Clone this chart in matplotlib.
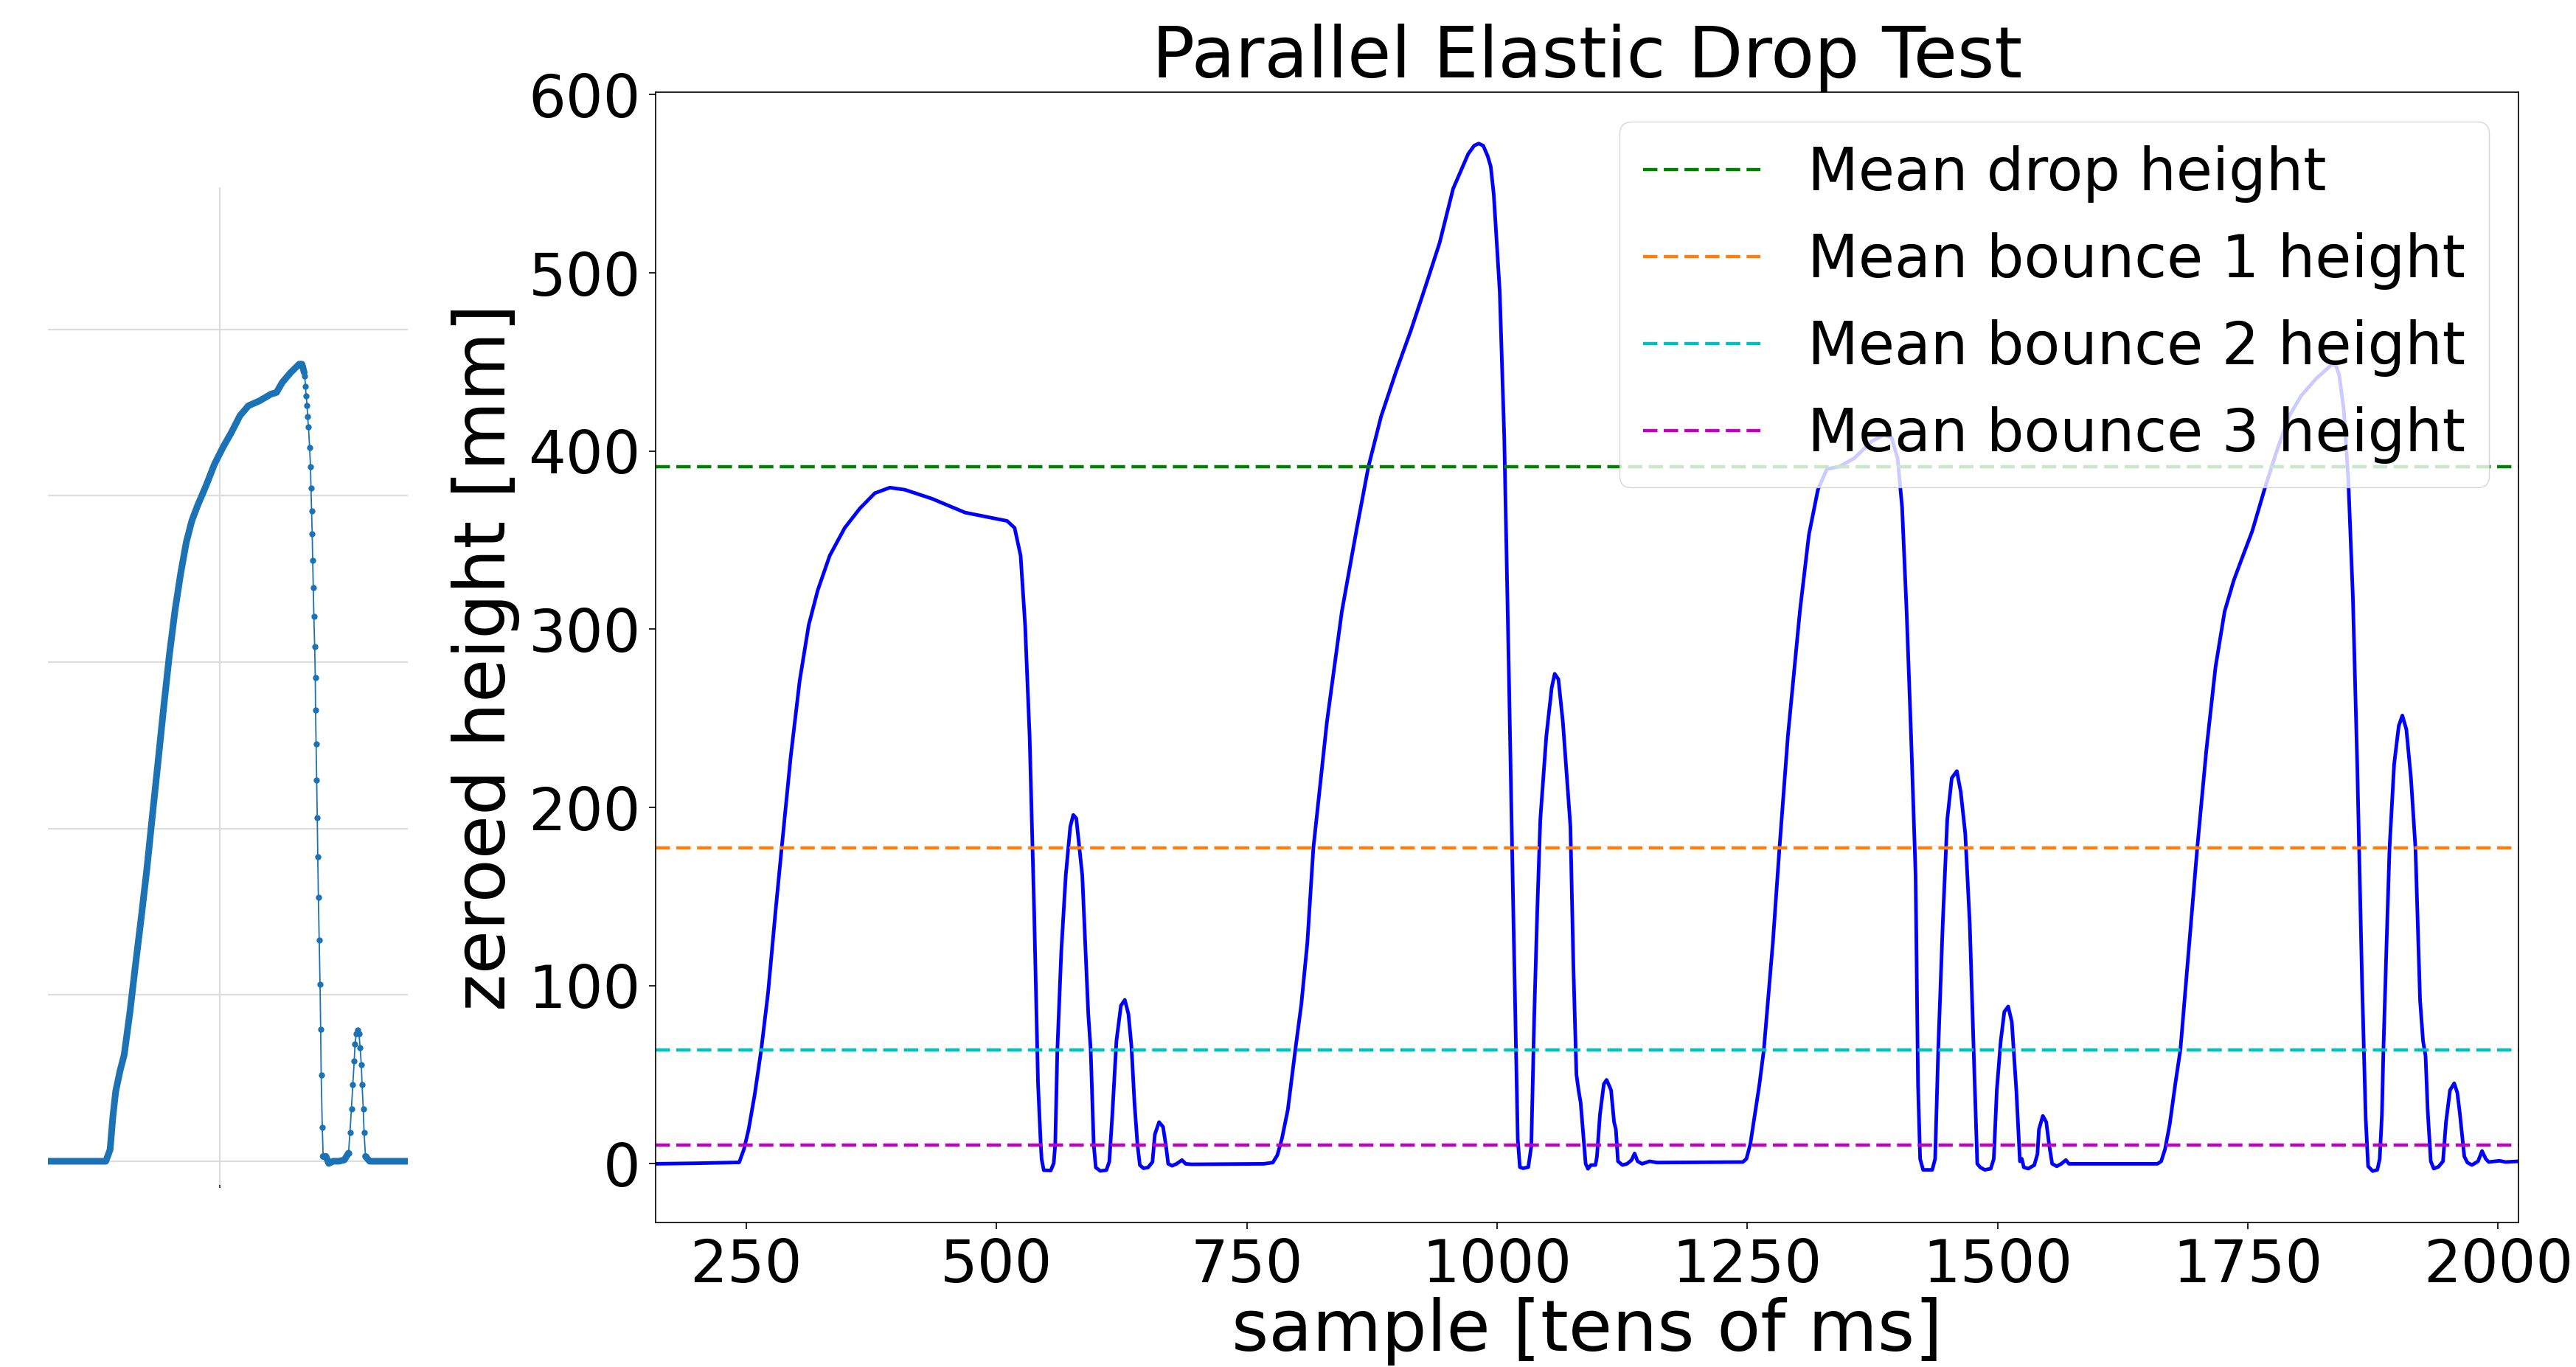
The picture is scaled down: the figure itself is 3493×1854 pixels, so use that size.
import numpy as np
import matplotlib
matplotlib.use("Agg")
import matplotlib.pyplot as plt

# ---------------- main series (sample [tens of ms], zeroed height [mm]) ----------------
sample = [159.5, 200, 243, 247.8, 252.4, 258.4, 265.0, 271.9, 279.4, 285.4, 294.4, 303.4, 312.4,
          321.4, 333.4, 348.4, 363.5, 378.5, 393.5, 408.5, 435.5, 468.6, 510.6, 518.1, 524.1,
          528.6, 533.1, 537.6, 541.5, 544.2, 545.1, 547.2, 554.2, 557.2, 558.7, 560.8, 564.7,
          569.2, 573.7, 576.7, 579.7, 585.7, 591.7, 594.1, 597.1, 599.2, 603.7, 609.7, 612.7,
          615.7, 619.8, 624.3, 628.2, 631.8, 634.8, 637.8, 640.8, 643.2, 646.8, 651.3, 655.8,
          658.2, 662.4, 666.4, 669.4, 671.5, 675.4, 679.9, 685.3, 688.9, 694.9, 767.0, 776.0,
          780.5, 785.0, 791.0, 798.5, 804.5, 810.5, 816.5, 830.0, 845.0, 860.0, 871.5, 884.1,
          899.1, 914.1, 929.1, 942.6, 956.1, 971.1, 977.1, 981.7, 986.2, 990.7, 993.7, 996.7,
          1002.7, 1007.2, 1011.7,
          1016.2, 1020.7, 1022.8, 1026.0, 1031.2, 1034.2, 1037.2, 1040.2, 1043.2, 1049.2, 1054.6,
          1057.6, 1061.3, 1065.8, 1073.3, 1076.3, 1079.3, 1081.5, 1083.5, 1085.5, 1088.5, 1090.8,
          1093.8, 1098.3, 1099.8, 1102.8, 1106.7, 1109.4, 1111.8, 1113.9, 1116.9, 1118.7, 1120.8,
          1125.3, 1129.9, 1134.4, 1137.4, 1140.4, 1144.9, 1152.4, 1159.9, 1245.5, 1249.1, 1253.0,
          1257.5, 1262.0, 1266.5, 1275.5, 1282.1, 1290.5, 1302.5, 1311.5, 1320.5, 1329.5, 1341.6,
          1356.6, 1374.6, 1386.6, 1394.1, 1400.1, 1404.6, 1409.1, 1413.6, 1418.1, 1420.5, 1422.6,
          1425.6, 1434.7, 1437.6, 1440.7, 1445.2, 1449.7, 1454.2, 1459.3, 1463.2, 1467.7, 1472.2,
          1476.7, 1479.7, 1482.7, 1487.2, 1493.2, 1496.2, 1499.2, 1503.1, 1506.7, 1510.6, 1514.2,
          1518.7, 1522.3, 1524.2, 1526.2, 1530.7, 1536.7, 1539.8, 1541.3, 1545.2, 1548.6, 1551.4,
          1554.5, 1559.1, 1563.6, 1568.2, 1571.3, 1580.4, 1659.7, 1663.4, 1667.3, 1671.9, 1678.0,
          1682.6, 1690.2, 1699.4, 1708.5, 1717.7, 1726.8, 1736.0, 1745.1, 1754.3, 1766.5, 1778.7,
          1790.9, 1803.1, 1818.3, 1833.6, 1838.0, 1841.2, 1845.8, 1850.3, 1854.9, 1859.4, 1864.0,
          1867.7,
          1870.1, 1874.7, 1879.3, 1881.7, 1883.9, 1885.4, 1888.5, 1891.5, 1896.1, 1900.7, 1904.3,
          1908.3, 1912.9, 1917.4, 1922.0, 1925.0, 1927.5, 1929.6, 1932.7, 1935.7, 1940.3, 1944.9,
          1947.9, 1951.9, 1956.1, 1959.2, 1961.6, 1966.2, 1969.3, 1973.8, 1979.9, 1983.9, 1987.6,
          1990.6, 2001.3, 2007.4, 2020.3]
height = [0.0, 0.3, 0.8, 8.3, 19.3, 38.6, 64.0, 96.4, 142.4, 177.1, 228.2, 271.1, 302.3,
          321.8, 341.3, 356.9, 367.8, 376.4, 379.5, 378.3, 373.3, 365.5, 360.8, 356.9, 341.3,
          302.3, 239.9, 142.4, 44.9, 10.9, 2.6, -3.6, -3.8, 0.4, 11.2, 64.0, 119.0,
          161.9, 189.2, 195.8, 193.9, 161.9, 83.9, 64.0, 11.0, -2.1, -4.0, -3.6, 1.2,
          27.5, 68.9, 88.8, 92.0, 84.0, 66.1, 34.4, 10.9, -0.7, -2.5, -2.1, 1.0,
          16.5, 23.4, 20.7, 9.6, 0.0, -1.1, 0.0, 2.1, 0.0, -0.3, 0.0, 0.7,
          4.8, 13.8, 30.3, 64.0, 89.5, 124.0, 177.1, 247.7, 310.1, 356.9, 391.2, 419.3,
          444.6, 468.0, 493.4, 516.8, 547.2, 566.7, 571.4, 572.6, 571.4, 565.5, 559.7, 544.1,
          489.5, 407.6, 278.9,
          142.4, 13.7, -1.9, -2.5, -1.9, 9.8, 83.9, 142.4, 193.1, 239.9, 267.2,
          275.0, 271.9, 247.7, 189.2, 110.0, 50.0, 41.0, 34.4, 20.7, 0.0, -2.8,
          -0.7, -0.7, 4.1, 27.7, 44.8, 47.1, 44.1, 41.3, 23.4, 19.3, 1.4,
          -0.7, 0.0, 2.1, 5.8, 1.4, 0.0, 1.4, 0.7, 1.0, 2.8, 11.1,
          27.7, 44.2, 64.0, 124.0, 177.1, 239.9, 310.1, 353.0, 378.3, 390.0, 391.2,
          395.9, 405.6, 409.2, 407.6, 395.9, 368.6, 310.1, 239.9, 161.9, 44.9, 2.8,
          -3.4, -3.4, 2.8, 64.0, 134.6, 193.1, 216.5, 220.4, 208.7, 185.3, 134.6,
          52.7, 0.0, -2.0, -3.4, -2.7, 2.8, 41.3, 68.8, 85.3, 88.3, 79.6,
          41.3, 1.4, 2.8, -2.0, -2.7, -0.7, 5.5, 19.3, 26.9, 23.4, 11.0,
          0.0, -1.4, 0.0, 2.1, 0.0, 0.0, 0.0, 1.4, 8.3, 22.0, 46.8,
          64.0, 115.1, 177.1, 232.1, 278.9, 310.1, 327.6, 341.3, 355.0, 378.3, 399.8,
          419.3, 431.0, 440.7, 448.5, 448.0, 442.7, 423.2, 384.2, 317.9, 220.4, 103.4,
          25.4,
          -1.4, -4.1, -3.4, 2.8, 27.5, 64.0, 122.9, 177.1, 224.3, 245.7, 251.6,
          243.8, 216.5, 177.1, 91.7, 68.8, 60.5, 30.2, 1.4, -2.7, -1.7, 1.4,
          23.4, 41.3, 45.2, 39.9, 28.9, 4.1, 0.7, -0.7, 1.4, 7.2, 2.8,
          1.0, 1.7, 1.0, 1.4]

mean_labels = ["Mean drop height", "Mean bounce 1 height",
               "Mean bounce 2 height", "Mean bounce 3 height"]
mean_values = [391.2, 177.1, 64.0, 10.6]
mean_colors = ["g", "#ff7f0e", "c", "m"]

x_ticks = [250, 500, 750, 1000, 1250, 1500, 1750, 2000]
y_ticks = [0, 100, 200, 300, 400, 500, 600]

# ---------------- left panel: close-up of one drop ----------------
left_rise_x = [0, 20, 40, 60, 78.5, 84.3, 88.1, 91.9, 97.6, 103.4, 111.0, 118.7, 126.4, 134.0,
               141.7, 149.3, 157.0, 164.6, 172.3, 179.9, 187.6, 195.2, 202.9, 214.4, 225.9,
               237.3, 248.8, 260.3, 271.8, 287.1, 302.4, 310.0, 317.7, 329.2, 340.7, 344.5, 347.5]
left_rise_y = [0, 0, 0, 0, 0, 7, 27, 42, 54, 64, 89, 118, 146, 175, 208, 240, 273, 304, 331,
               353, 372, 385, 394, 406, 419, 429, 438, 448, 454, 457, 461, 462, 468, 474, 479,
               479, 474]
left_fall_x = [348.3, 349.1, 350.2, 351.4, 352.1, 353.3, 354.8, 356.0, 356.7, 357.5, 358.3,
               359.0, 359.8, 360.6, 361.7, 362.5, 362.9, 363.6, 364.4, 365.2, 365.9, 366.7,
               367.8, 369.0, 369.8, 370.5, 372.0, 373.2]
left_fall_y = [472.0, 465.8, 459.7, 454.3, 447.4, 441.2, 428.9, 417.5, 404.4, 390.8, 376.9,
               361.3, 344.9, 327.3, 309.3, 290.5, 271.2, 250.7, 229.0, 206.5, 183.1, 158.5,
               133.1, 106.1, 79.5, 52.0, 20.5, 2.9]
left_floor_x = [373.2, 377.0, 380.8, 386.6, 394.3, 401.9, 407.6]
left_floor_y = [2.9, 2.9, -1.3, 0, 0, 0.8, 4.9]
left_bump_x = [407.6, 409.5, 411.5, 413.4, 415.3, 416.4, 418.0, 420.3, 421.8, 423.3, 424.9,
               426.0, 427.5, 428.7, 430.6]
left_bump_y = [4.9, 17.2, 31.5, 45.9, 60.2, 70.5, 76.6, 78.7, 76.6, 68.4, 58.2, 45.9, 31.5,
               17.2, 2.9]
left_tail_x = [430.6, 436.3, 460, 488]
left_tail_y = [2.9, 0, 0, 0]
left_grid_y = [0, 100, 200, 300, 400, 500]
left_grid_x = [233]

# ---------------- figure ----------------
W, H, DPI = 3493, 1854, 100
fig = plt.figure(figsize=(W / DPI, H / DPI), dpi=DPI)
plt.rcParams["lines.scale_dashes"] = False

TICK_FS = 57.5
LABEL_FS = 69.5

# left panel
axl = fig.add_axes([65 / W, 1 - 1607 / H, 488 / W, 1353 / H])
for s in axl.spines.values():
    s.set_visible(False)
axl.set_xlim(0, 488)
axl.set_ylim(-14.2, 585.3)
axl.set_yticks(left_grid_y)
axl.set_xticks(left_grid_x)
axl.tick_params(axis="y", length=0, labelleft=False)
axl.tick_params(axis="x", length=3, width=1.5, color="#444444", labelbottom=False)
axl.grid(True, color="#dcdcdc", lw=1.6)
axl.set_axisbelow(True)
lc = "#1b72b4"
all_x = left_rise_x + left_fall_x + left_floor_x + left_bump_x + left_tail_x
all_y = left_rise_y + left_fall_y + left_floor_y + left_bump_y + left_tail_y
axl.plot(all_x, all_y, "-", color=lc, lw=1.3)
for xs, ys in [(left_rise_x, left_rise_y), (left_floor_x, left_floor_y), (left_tail_x, left_tail_y)]:
    axl.plot(xs, ys, "-", color=lc, lw=6.5, solid_capstyle="round", solid_joinstyle="round")
for xs, ys in [(left_fall_x, left_fall_y), (left_bump_x, left_bump_y)]:
    axl.plot(xs, ys, "o", color=lc, ms=6.0, mew=0)

# main panel
ax = fig.add_axes([889 / W, 1 - 1658 / H, (3415 - 889) / W, (1658 - 125) / H])
ax.plot(sample, height, color="b", lw=3.5)
for v, c, lab in zip(mean_values, mean_colors, mean_labels):
    ax.axhline(v, color=c, lw=3.2, linestyle=(0, (14, 6.2)), label=lab)
ax.set_xlim(sample[0], sample[-1])
ax.set_xticks(x_ticks)
ax.set_yticks(y_ticks)
ax.margins(y=0.05)
for s in ax.spines.values():
    s.set_linewidth(1.2)
ax.tick_params(labelsize=TICK_FS, length=6.5, width=1.2, pad=8)
ax.set_xlabel("sample [tens of ms]", fontsize=LABEL_FS, labelpad=2)
ax.set_ylabel("zeroed height [mm]", fontsize=LABEL_FS, labelpad=8)
ax.set_title("Parallel Elastic Drop Test", fontsize=LABEL_FS, pad=0)
ax.legend(loc="upper right", fontsize=TICK_FS)

fig.savefig("out.png", dpi=DPI)
